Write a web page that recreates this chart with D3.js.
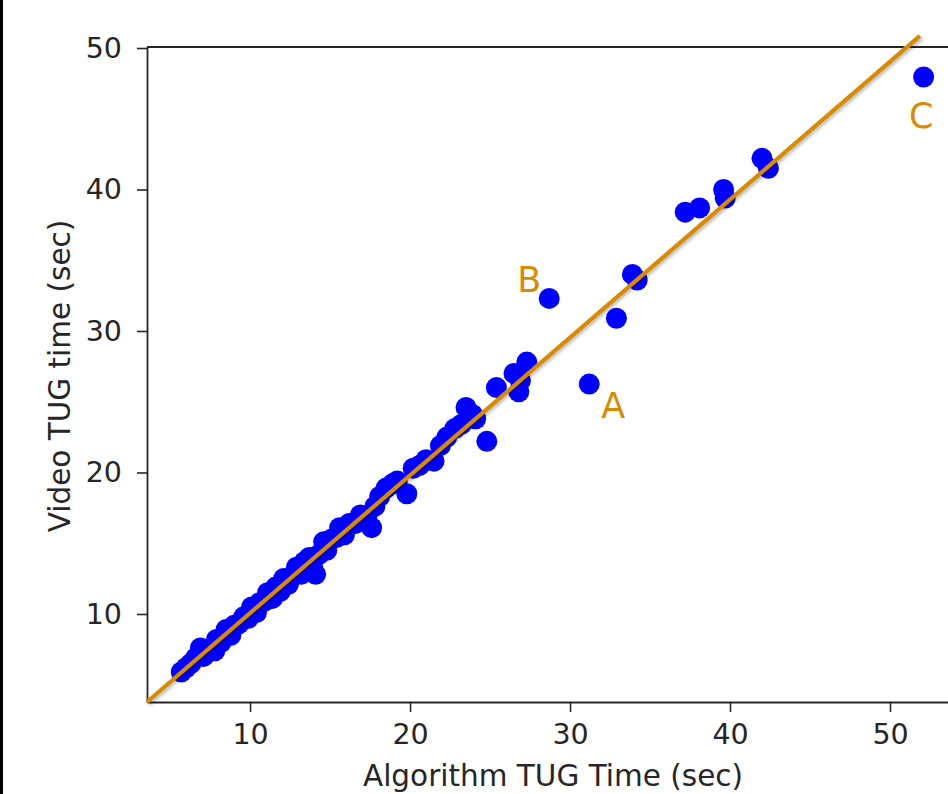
<!DOCTYPE html>
<html>
<head>
<meta charset="utf-8">
<script src="https://cdn.jsdelivr.net/npm/d3@7"></script>
<style>
  html, body { margin: 0; padding: 0; background: #fff; }
  svg { display: block; font-family: "DejaVu Sans", sans-serif; }
</style>
</head>
<body>
<svg id="chart" width="948" height="794"></svg>
<script>
// ---- data ----
const algorithmTime = [5.7, 6.0, 6.3, 6.6, 6.9, 7.1, 7.4, 7.8, 7.9, 8.2, 8.5, 8.8, 9.0, 9.3, 9.6, 9.9,
  10.1, 10.4, 10.6, 10.9, 11.1, 11.4, 11.6, 11.9, 12.1, 12.4, 12.7, 12.9, 13.2, 13.4, 13.7, 13.9, 14.1,
  14.3, 14.6, 14.8, 15.1, 15.4, 15.6, 15.9, 16.2, 16.6, 16.9, 17.3, 17.6, 17.8, 18.1, 18.5, 18.9, 19.2,
  19.8, 20.2, 20.6, 21.0, 21.5, 21.9, 22.3, 22.8, 23.2, 23.5, 23.9, 24.1, 24.8, 25.4, 26.5, 26.8, 27.3,
  26.9, 28.7, 31.2, 32.9, 33.9, 34.2, 37.2, 38.1, 39.6, 39.7, 42.0, 42.4, 52.1];
const videoTime = [5.9, 6.2, 6.5, 6.9, 7.6, 7.0, 7.5, 7.4, 8.2, 8.0, 8.9, 8.5, 9.2, 9.3, 9.8, 9.7,
  10.5, 10.1, 10.8, 10.9, 11.5, 11.1, 11.9, 11.6, 12.5, 12.1, 12.7, 13.3, 12.8, 13.7, 14.0, 13.4, 12.8,
  14.2, 15.1, 14.5, 15.3, 15.4, 16.1, 15.6, 16.4, 16.4, 17.0, 16.8, 16.1, 17.6, 18.3, 18.9, 19.2, 19.4,
  18.5, 20.3, 20.5, 20.9, 20.8, 21.9, 22.5, 23.1, 23.4, 24.6, 24.1, 23.8, 22.2, 26.0, 27.0, 25.7, 27.8,
  26.5, 32.3, 26.25, 30.9, 34.0, 33.6, 38.4, 38.7, 40.0, 39.4, 42.2, 41.5, 47.95];
const fitLineX = [3.56, 51.87];
const fitLineY = [3.78, 50.85];
const annotationText = ["A", "B", "C"];
const annotationX = [32.7, 27.45, 51.95];
const annotationY = [23.85, 32.75, 44.35];
const xTicks = [10, 20, 30, 40, 50];
const yTicks = [10, 20, 30, 40, 50];
const xLabel = "Algorithm TUG Time (sec)";
const yLabel = "Video TUG time (sec)";

// ---- chart ----
const svg = d3.select("#chart");
const orange = "#d88b00";

const x = d3.scaleLinear().domain([3.56, 57.5]).range([147, 1010]);
const y = d3.scaleLinear().domain([3.78, 50.07]).range([702, 47]);

// left border of the picture
svg.append("rect").attr("x", 0).attr("y", 0).attr("width", 3).attr("height", 794).attr("fill", "#000");

const defs = svg.append("defs");
defs.append("filter").attr("id", "blur").append("feGaussianBlur").attr("stdDeviation", 1.5);

// points
const pts = algorithmTime.map((a, i) => ({ a, v: videoTime[i] }));
svg.append("g").selectAll("circle").data(pts).join("circle")
  .attr("cx", d => x(d.a)).attr("cy", d => y(d.v)).attr("r", 10.5)
  .attr("fill", "#0000ff");

// axes
const tickFont = 28.5;
const labelFont = 29.5;
const xAxis = svg.append("g").attr("transform", "translate(0,702)")
  .call(d3.axisBottom(x).tickValues(xTicks).tickFormat(d3.format("d")).tickSizeInner(10).tickSizeOuter(0).tickPadding(12));
const yAxis = svg.append("g").attr("transform", "translate(147,0)")
  .call(d3.axisLeft(y).tickValues(yTicks).tickFormat(d3.format("d")).tickSizeInner(10).tickSizeOuter(0).tickPadding(15));
[xAxis, yAxis].forEach(g => {
  g.selectAll("text").attr("font-size", tickFont).attr("fill", "#262626").attr("font-family", "DejaVu Sans");
  g.selectAll(".tick line").attr("stroke", "#262626").attr("stroke-width", 1.6);
  g.select(".domain").attr("stroke", "#262626").attr("stroke-width", 1.8);
});
// top spine
svg.append("line").attr("x1", 147).attr("x2", 1010).attr("y1", y(50.07)).attr("y2", y(50.07))
  .attr("stroke", "#262626").attr("stroke-width", 1.8);

// fit line with soft shadow
const linePts = fitLineX.map((v, i) => [x(v), y(fitLineY[i])]);
svg.append("line")
  .attr("x1", linePts[0][0] + 2).attr("y1", linePts[0][1] + 2)
  .attr("x2", linePts[1][0] + 2).attr("y2", linePts[1][1] + 2)
  .attr("stroke", "#000").attr("stroke-opacity", 0.25).attr("stroke-width", 4)
  .attr("filter", "url(#blur)");
svg.append("line")
  .attr("x1", linePts[0][0]).attr("y1", linePts[0][1])
  .attr("x2", linePts[1][0]).attr("y2", linePts[1][1])
  .attr("stroke", orange).attr("stroke-width", 4.2);

// annotations
svg.append("g").selectAll("text").data(annotationText).join("text")
  .attr("x", (d, i) => x(annotationX[i])).attr("y", (d, i) => y(annotationY[i]))
  .attr("text-anchor", "middle").attr("font-size", 35).attr("fill", orange)
  .text(d => d);

// axis labels
svg.append("text").attr("x", 553).attr("y", 786).attr("text-anchor", "middle")
  .attr("font-size", labelFont).attr("fill", "#262626").text(xLabel);
svg.append("text").attr("transform", "translate(70,376) rotate(-90)").attr("text-anchor", "middle")
  .attr("font-size", labelFont).attr("fill", "#262626").text(yLabel);
</script>
</body>
</html>
